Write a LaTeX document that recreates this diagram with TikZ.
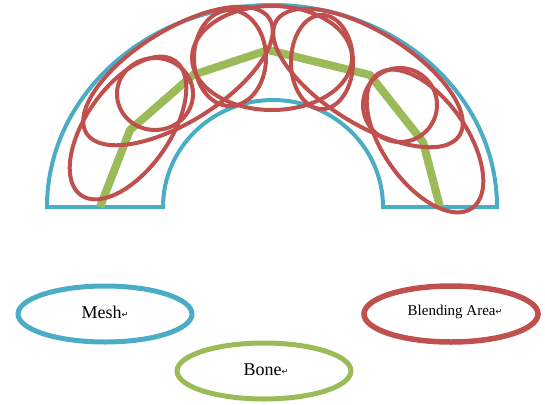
\documentclass[tikz,border=0pt]{standalone}
\usepackage{fontspec}
\setmainfont{Liberation Serif}
\newfontfamily\symfont{DejaVu Sans}
\usetikzlibrary{shapes.geometric}
\definecolor{meshblue}{HTML}{4BACC6}
\definecolor{blendred}{HTML}{C0504D}
\definecolor{bonegreen}{HTML}{9BBB59}
\newcommand{\retmark}{{\symfont\fontsize{8}{8}\selectfont\raisebox{1pt}{↵}}}
\begin{document}
\begin{tikzpicture}[x=1pt,y=-1pt,
  meshline/.style={draw=meshblue,line width=4pt},
  boneline/.style={draw=bonegreen,line width=8pt,line join=bevel},
  blend/.style={draw=blendred,line width=4pt},
  legendbox/.style={ellipse,line width=5pt,minimum width=174pt,minimum height=56pt,inner sep=0pt},
  lbl/.style={font=\fontsize{18}{20}\selectfont}]
\useasboundingbox (0,0) rectangle (545,404);
% mesh
\draw[meshline] (47,207) -- (163,207)
  arc[start angle=180,end angle=0,x radius=110pt,y radius=107pt] -- (497,207)
  arc[start angle=0,end angle=180,x radius=225pt,y radius=202pt] -- cycle;
% bone
\coordinate (b0) at (100,207);
\coordinate (b1) at (130,130);
\coordinate (b2) at (193,75);
\coordinate (b3) at (268,50);
\coordinate (b4) at (370,75);
\coordinate (b5) at (423,142);
\coordinate (b6) at (440,207);
\draw[boneline] (b0) -- (b1) -- (b2) -- (b3) -- (b4) -- (b5) -- (b6);
% blending areas
\draw[blend,rotate around={55:(128,128)}] (128,128) ellipse[x radius=82pt,y radius=42pt];
\draw[blend] (155,94) ellipse[x radius=38pt,y radius=36pt];
\draw[blend,rotate around={32:(178,76)}] (178,76) ellipse[x radius=108pt,y radius=46pt];
\draw[blend] (230,58) ellipse[x radius=36pt,y radius=48pt];
\draw[blend] (272,58) ellipse[x radius=80pt,y radius=52pt];
\draw[blend] (322,62) ellipse[x radius=31pt,y radius=47pt];
\draw[blend,rotate around={-32:(368,78)}] (368,78) ellipse[x radius=108pt,y radius=46pt];
\draw[blend] (400,105) ellipse[x radius=37pt,y radius=37pt];
\draw[blend,rotate around={-55:(425,141)}] (425,141) ellipse[x radius=82pt,y radius=42pt];
% legend
\node[legendbox,draw=meshblue] (mesh) at (105,314) {};
\node[lbl] (meshtxt) at (105,312) {Mesh\retmark};
\node[legendbox,draw=bonegreen] (bone) at (264,371) {};
\node[lbl] (bonetxt) at (266,370) {Bone\retmark};
\node[legendbox,draw=blendred,line width=5.5pt] (blendarea) at (451,314) {};
\node[font=\fontsize{15}{17}\selectfont] (blendtxt) at (455,312) {Blending Area\retmark};
\end{tikzpicture}
\end{document}
